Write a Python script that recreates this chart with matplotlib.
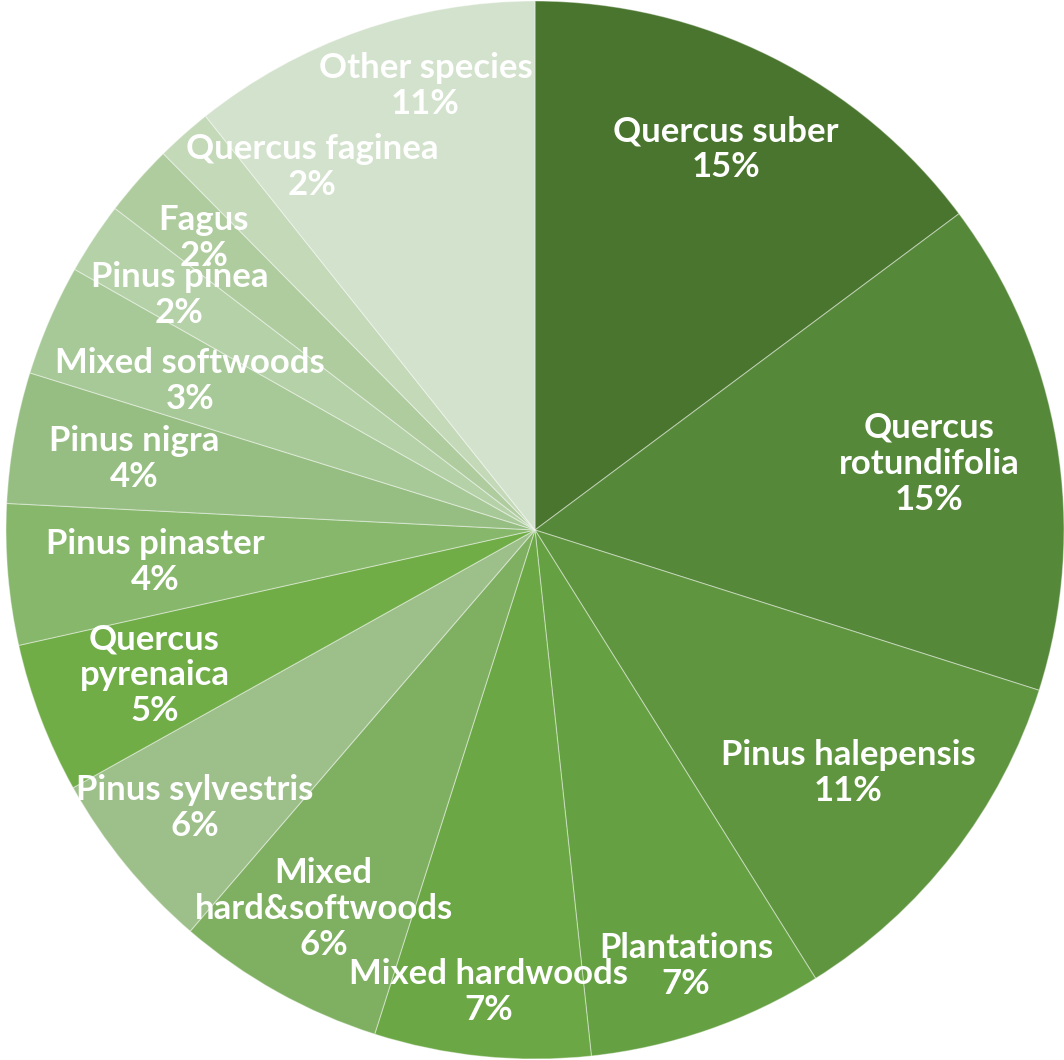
import matplotlib

matplotlib.use("Agg")
import matplotlib.pyplot as plt
import numpy as np

# forest area share by dominant species (%), clockwise from 12 o'clock
species = [
    "Quercus suber", "Quercus\nrotundifolia", "Pinus halepensis", "Plantations",
    "Mixed hardwoods", "Mixed\nhard&softwoods", "Pinus sylvestris", "Quercus\npyrenaica",
    "Pinus pinaster", "Pinus nigra", "Mixed softwoods", "Pinus pinea", "Fagus",
    "Quercus faginea", "Other species",
]
share = [14.8, 15.1, 11.2, 7.2, 6.6, 6.4, 5.6, 4.6, 4.3, 4.0, 3.4, 2.2, 2.2, 1.7, 10.7]
colors = [
    "#4a752e", "#56883a", "#5f953e", "#65a042", "#6ba745", "#7fb062", "#9dc08a",
    "#70ad47", "#86b76a", "#96be82", "#a7c997", "#b5d1a7", "#afcc9f", "#c3d9b8",
    "#d3e2cc",
]
# label placement: radius as a fraction of R, and a clockwise nudge (deg) off the wedge middle
label_r = [0.805, 0.756, 0.75, 0.873, 0.877, 0.82, 0.83, 0.77, 0.72, 0.77, 0.71, 0.806, 0.835, 0.805, 0.865]
label_nudge = [0, 0, 0, 0, 0, 0, 0, 0, 0, 0, 0, 0, 0, 10, 5.4]

W, H = 1064, 1060
CX, CY, R = 535, 530, 529  # pie centre / radius in pixels

fig = plt.figure(figsize=(W / 100, H / 100), dpi=100)
ax = fig.add_axes([0, 0, 1, 1])
wedges, _ = ax.pie(
    share, colors=colors, startangle=90, counterclock=False, radius=1,
    wedgeprops=dict(edgecolor=(1, 1, 1, 0.4), linewidth=0.8),
)

total = sum(share)
for w, name, v, r, nudge in zip(wedges, species, share, label_r, label_nudge):
    mid = np.deg2rad((w.theta1 + w.theta2) / 2 - nudge)
    ax.text(r * np.cos(mid), r * np.sin(mid), f"{name}\n{v / total * 100:.0f}%",
            ha="center", va="center", color="white", fontsize=25,
            fontweight="bold", family="Lato", linespacing=1.15)

ax.set_xlim(-CX / R, (W - CX) / R)
ax.set_ylim(-(H - CY) / R, CY / R)
ax.set_aspect("equal")
ax.axis("off")

fig.savefig("out.png", dpi=100)
